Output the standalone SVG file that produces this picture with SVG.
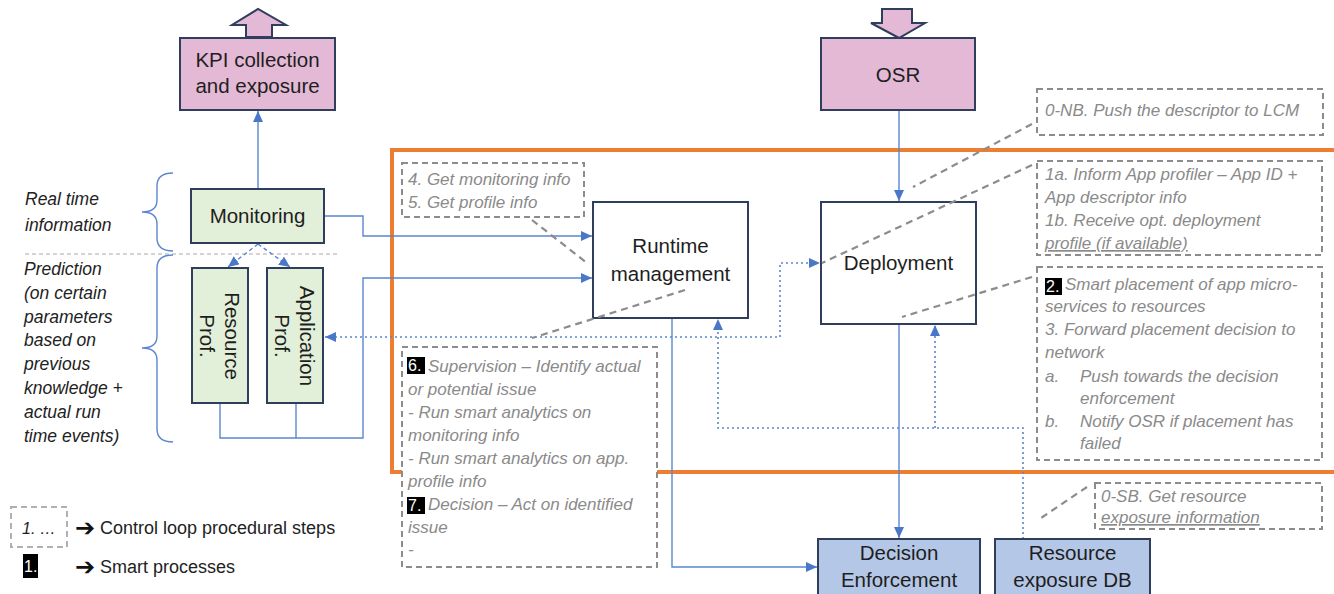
<svg xmlns="http://www.w3.org/2000/svg" width="1334" height="594" viewBox="0 0 1334 594">
  <defs>
    <marker id="ah" viewBox="0 0 11 10" refX="11" refY="5" markerWidth="11" markerHeight="10" markerUnits="userSpaceOnUse" orient="auto-start-reverse">
      <path d="M0,0 L11,5 L0,10 z" fill="#4a78c8"/>
    </marker>
    <style>
      .box { stroke: #2f3e5c; stroke-width: 2; }
      .pink { fill: #e4b9d6; }
      .green { fill: #e2efd9; }
      .blue { fill: #b4c7e7; }
      .white { fill: #ffffff; }
      .lbl { font-family: "Liberation Sans", Arial, sans-serif; font-size: 20.5px; fill: #1e1e1e; text-anchor: middle; }
      .side { font-family: "Liberation Sans", Arial, sans-serif; font-size: 17.5px; font-style: italic; fill: #222222; }
      .note { font-family: "Liberation Sans", Arial, sans-serif; font-size: 17px; font-style: italic; fill: #8a8a8a; }
      .badge { fill: #000000; }
      .badgetxt { font-family: "Liberation Sans", Arial, sans-serif; font-size: 16px; fill: #ffffff; }
      .legend { font-family: "Liberation Sans", Arial, sans-serif; font-size: 18px; fill: #222222; }
      .arrowglyph { font-family: "DejaVu Sans", sans-serif; font-size: 24px; font-weight: bold; fill: #111111; }
      .dashbox { fill: #ffffff; stroke: #8c8c8c; stroke-width: 2; stroke-dasharray: 6 4; }
      .leader { fill: none; stroke: #8c8c8c; stroke-width: 2.2; stroke-dasharray: 7 5; }
      .flow { fill: none; stroke: #5a86d0; stroke-width: 1.4; }
      .dotted { fill: none; stroke: #5a86d0; stroke-width: 1.6; stroke-dasharray: 2 3; }
      .dashed { fill: none; stroke: #5a86d0; stroke-width: 1.4; stroke-dasharray: 4 3; }
      .brace { fill: none; stroke: #5a86d0; stroke-width: 1.4; }
    </style>
  </defs>

  <rect width="1334" height="594" fill="#ffffff"/>

  <!-- control loop frame (open to the right) -->
  <path d="M1340,150 L392,150 L392,472 L1340,472" fill="none" stroke="#ed7d31" stroke-width="4"/>

  <!-- separator between real time and prediction -->
  <line x1="25" y1="254" x2="337" y2="254" stroke="#aaaaaa" stroke-width="1.2" stroke-dasharray="4 3"/>

  <!-- braces -->
  <path class="brace" d="M173,173 Q157,173 157,186 L157,200 Q157,212 142,212 Q157,212 157,224 L157,238 Q157,251 173,251"/>
  <path class="brace" d="M173,255 Q157,255 157,268 L157,336 Q157,348 142,348 Q157,348 157,360 L157,429 Q157,442 173,442"/>

  <!-- side captions -->
  <text class="side" x="25" y="205">Real time</text>
  <text class="side" x="25" y="231">information</text>
  <text class="side" x="24" y="275">Prediction</text>
  <text class="side" x="24" y="299">(on certain</text>
  <text class="side" x="24" y="323">parameters</text>
  <text class="side" x="24" y="346">based on</text>
  <text class="side" x="24" y="370">previous</text>
  <text class="side" x="24" y="394">knowledge +</text>
  <text class="side" x="24" y="418">actual run</text>
  <text class="side" x="24" y="442">time events)</text>

  <!-- connectors -->
  <g id="connectors">
    <line class="flow" x1="258" y1="189" x2="258" y2="111" marker-end="url(#ah)"/>
    <path class="flow" d="M324,216 L363,216 L363,236 L592,236" marker-end="url(#ah)"/>
    <path class="flow" d="M220,403 L220,438 L363,438 L363,278 L592,278" marker-end="url(#ah)"/>
    <line class="flow" x1="296" y1="403" x2="296" y2="438"/>
    <line class="dashed" x1="258" y1="244" x2="228" y2="267" marker-end="url(#ah)"/>
    <line class="dashed" x1="258" y1="244" x2="290" y2="267" marker-end="url(#ah)"/>
    <path class="dotted" d="M325,337 L780,337 L780,263 L820,263" marker-start="url(#ah)" marker-end="url(#ah)"/>
    <line class="flow" x1="899" y1="110" x2="899" y2="201" marker-end="url(#ah)"/>
    <line class="flow" x1="899" y1="324" x2="899" y2="538" marker-end="url(#ah)"/>
    <path class="flow" d="M672,318 L672,567 L817,567" marker-end="url(#ah)"/>
    <path class="dotted" d="M1023,539 L1023,428 L718,428 L718,319" marker-end="url(#ah)"/>
    <line class="dotted" x1="935" y1="428" x2="935" y2="325" marker-end="url(#ah)"/>
  </g>

  <!-- KPI collection and exposure, with outgoing block arrow -->
  <g id="kpi">
    <path class="box pink" d="M246,37 L246,25 L232,25 L258,9 L286,25 L272,25 L272,37 z"/>
    <rect class="box pink" x="180" y="38" width="155" height="72"/>
    <text class="lbl" x="257.5" y="67">KPI collection</text>
    <text class="lbl" x="257.5" y="93">and exposure</text>
  </g>

  <!-- OSR, with incoming block arrow -->
  <g id="osr">
    <path class="box pink" d="M882,9 L912,9 L912,23 L925,23 L899,38 L871,23 L882,23 z"/>
    <rect class="box pink" x="821" y="38" width="154" height="72"/>
    <text class="lbl" x="898" y="82">OSR</text>
  </g>

  <g id="monitoring">
    <rect class="box green" x="191" y="189" width="133" height="54"/>
    <text class="lbl" x="257.5" y="223">Monitoring</text>
  </g>

  <g id="resource-prof">
    <rect class="box green" x="192" y="268" width="56" height="135"/>
    <g transform="translate(220,336) rotate(90)">
      <text class="lbl" x="0" y="-5">Resource</text>
      <text class="lbl" x="0" y="20">Prof.</text>
    </g>
  </g>

  <g id="application-prof">
    <rect class="box green" x="267" y="268" width="56" height="135"/>
    <g transform="translate(295,336) rotate(90)">
      <text class="lbl" x="0" y="-5">Application</text>
      <text class="lbl" x="0" y="20">Prof.</text>
    </g>
  </g>

  <g id="runtime-management">
    <rect class="box white" x="593" y="202" width="155" height="116"/>
    <text class="lbl" x="670.5" y="253">Runtime</text>
    <text class="lbl" x="670.5" y="281">management</text>
  </g>

  <g id="deployment">
    <rect class="box white" x="821" y="202" width="155" height="122"/>
    <text class="lbl" x="898.5" y="270">Deployment</text>
  </g>

  <g id="decision-enforcement">
    <rect class="box blue" x="818" y="539" width="162" height="62"/>
    <text class="lbl" x="899" y="560">Decision</text>
    <text class="lbl" x="899" y="587">Enforcement</text>
  </g>

  <g id="resource-exposure-db">
    <rect class="box blue" x="995" y="539" width="155" height="62"/>
    <text class="lbl" x="1072.5" y="560">Resource</text>
    <text class="lbl" x="1072.5" y="587">exposure DB</text>
  </g>

  <!-- procedural step notes -->
  <g id="step-4-5">
    <rect class="dashbox" x="402" y="163" width="182" height="54"/>
    <text class="note" x="408" y="185">4. Get monitoring info</text>
    <text class="note" x="408" y="208">5. Get profile info</text>
  </g>

  <g id="step-6-7">
    <rect class="dashbox" x="402" y="347" width="255" height="220"/>
    <rect class="badge" x="407" y="357" width="18" height="17"/>
    <text class="badgetxt" x="408" y="371">6.</text>
    <text class="note" x="428" y="372">Supervision – Identify actual</text>
    <text class="note" x="408" y="395">or potential issue</text>
    <text class="note" x="408" y="418">- Run smart analytics on</text>
    <text class="note" x="408" y="441">monitoring info</text>
    <text class="note" x="408" y="464">- Run smart analytics on app.</text>
    <text class="note" x="408" y="487">profile info</text>
    <rect class="badge" x="407" y="497" width="18" height="17"/>
    <text class="badgetxt" x="408" y="511">7.</text>
    <text class="note" x="428" y="510">Decision – Act on identified</text>
    <text class="note" x="408" y="533">issue</text>
    <text class="note" x="408" y="555">-</text>
  </g>

  <g id="step-0-nb">
    <rect class="dashbox" x="1037" y="89" width="286" height="46"/>
    <text class="note" x="1045" y="116">0-NB. Push the descriptor to LCM</text>
  </g>

  <g id="step-1">
    <rect class="dashbox" x="1037" y="161" width="285" height="94"/>
    <text class="note" x="1045" y="180">1a. Inform App profiler – App ID +</text>
    <text class="note" x="1045" y="203">App descriptor info</text>
    <text class="note" x="1045" y="226">1b. Receive opt. deployment</text>
    <text class="note" x="1045" y="249" text-decoration="underline">profile (if available)</text>
  </g>

  <g id="step-2-3">
    <rect class="dashbox" x="1037" y="267" width="285" height="193"/>
    <rect class="badge" x="1045" y="278" width="17" height="17"/>
    <text class="badgetxt" x="1046" y="292">2.</text>
    <text class="note" x="1065" y="290">Smart placement of app micro-</text>
    <text class="note" x="1045" y="312">services to resources</text>
    <text class="note" x="1045" y="335">3. Forward placement decision to</text>
    <text class="note" x="1045" y="358">network</text>
    <text class="note" x="1045" y="382">a.</text>
    <text class="note" x="1080" y="382">Push towards the decision</text>
    <text class="note" x="1080" y="404">enforcement</text>
    <text class="note" x="1045" y="427">b.</text>
    <text class="note" x="1080" y="427">Notify OSR if placement has</text>
    <text class="note" x="1080" y="449">failed</text>
  </g>

  <g id="step-0-sb">
    <rect class="dashbox" x="1095" y="483" width="227" height="46"/>
    <text class="note" x="1101" y="502">0-SB. Get resource</text>
    <text class="note" x="1101" y="523" text-decoration="underline">exposure information</text>
  </g>

  <!-- note leaders -->
  <g id="leaders">
    <line class="leader" x1="532" y1="220" x2="587" y2="263"/>
    <line class="leader" x1="685" y1="290" x2="532" y2="338"/>
    <line class="leader" x1="1032" y1="124" x2="913" y2="187"/>
    <line class="leader" x1="1032" y1="165" x2="822" y2="263"/>
    <line class="leader" x1="1032" y1="277" x2="902" y2="317"/>
    <line class="leader" x1="1087" y1="487" x2="1038" y2="520"/>
  </g>

  <!-- legend -->
  <g id="legend">
    <rect x="11" y="507" width="56" height="40" fill="none" stroke="#b0b0b0" stroke-width="2" stroke-dasharray="6 4"/>
    <text class="side" x="22" y="534" style="font-size:16px">1. …</text>
    <text class="arrowglyph" x="75" y="536">➔</text>
    <text class="legend" x="100" y="534">Control loop procedural steps</text>
    <rect class="badge" x="23" y="554" width="15" height="24"/>
    <text class="badgetxt" x="24" y="572">1.</text>
    <text class="arrowglyph" x="75" y="575">➔</text>
    <text class="legend" x="100" y="573">Smart processes</text>
  </g>
</svg>
